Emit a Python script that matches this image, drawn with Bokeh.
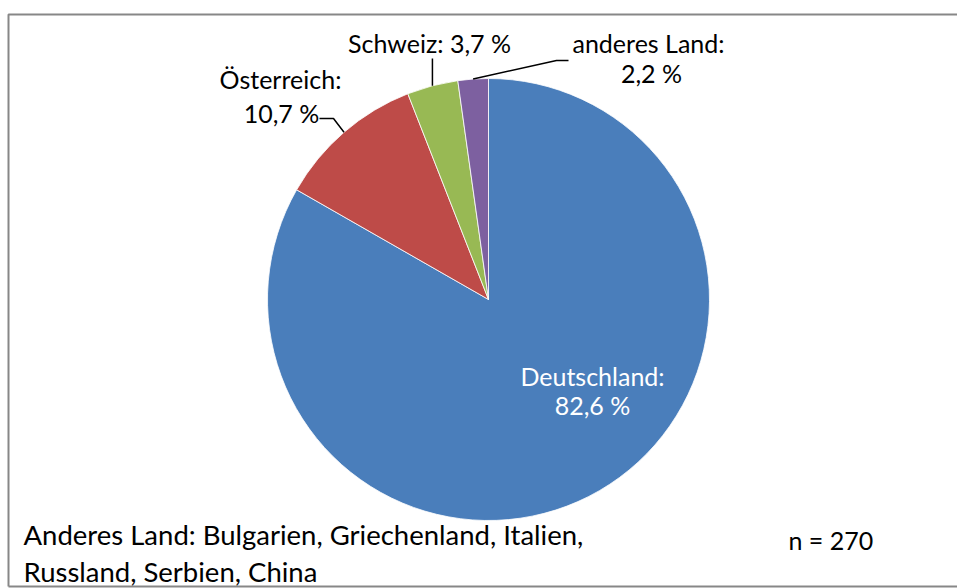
import numpy as np
from bokeh.plotting import figure
from bokeh.models import ColumnDataSource, Range1d
from bokeh.embed import file_html
from bokeh.resources import INLINE
from bokeh.core.properties import value

# ---- data ----
countries = ["Deutschland", "Österreich", "Schweiz", "anderes Land"]
percent = [82.6, 10.7, 3.7, 2.2]
percent_labels = ["82,6 %", "10,7 %", "3,7 %", "2,2 %"]
colors = ["#4A7EBB", "#BE4B48", "#98B954", "#7D60A0"]
note_lines = ["Anderes Land: Bulgarien, Griechenland, Italien,", "Russland, Serbien, China"]
n_label = "n = 270"

# ---- geometry (screen pixels, y measured from top of window) ----
W, H = 957, 588
def sy(y):
    return H - y

cx, cy, r = 488, sy(299), 221
FONT = value("Lato")
TS = 10  # baseline correction for svg text

vals = np.array(percent, dtype=float)
frac = vals / vals.sum()
cum_end = np.cumsum(frac)
cum_start = cum_end - frac
start_angle = np.pi / 2 - 2 * np.pi * cum_start
end_angle = np.pi / 2 - 2 * np.pi * cum_end
mid_angle = np.pi / 2 - 2 * np.pi * (cum_start + frac / 2)

src = ColumnDataSource(dict(
    country=countries, start=start_angle, end=end_angle, color=colors,
    x=[cx] * len(countries), y=[cy] * len(countries),
))

p = figure(width=W, height=H, x_range=Range1d(0, W), y_range=Range1d(0, H),
           output_backend="svg", toolbar_location=None, min_border=0,
           x_axis_location=None, y_axis_location=None)
p.grid.visible = False
p.outline_line_color = None
p.background_fill_color = "white"
p.border_fill_color = "white"

# chart-area border
p.line(x=[8, 8, W + 5], y=[sy(586), sy(14), sy(14)], line_color="#878787", line_width=2)
p.line(x=[8, W + 5], y=[sy(586), sy(586)], line_color="#878787", line_width=2)

p.wedge(x="x", y="y", radius=r, start_angle="start", end_angle="end", direction="clock",
        fill_color="color", line_color="white", line_width=0.8, source=src)

# leader-line end points on the pie edge
ex = cx + r * np.cos(mid_angle)
ey = cy + r * np.sin(mid_angle)

# Österreich
p.line(x=[319, 333, ex[1]], y=[sy(118), sy(118), ey[1]], line_color="black", line_width=1.5)
# Schweiz
p.line(x=[ex[2], ex[2]], y=[sy(58), ey[2]], line_color="black", line_width=1.5)
# anderes Land
p.line(x=[568, 556, ex[3]], y=[sy(60), sy(60), ey[3]], line_color="black", line_width=1.5)

LBL = "25px"
p.text(x=[592, 592], y=[sy(385 - TS), sy(414 - TS)], text=[countries[0] + ":", percent_labels[0]],
       text_font=FONT, text_font_size=LBL, text_align="center", text_baseline="alphabetic",
       text_color="white")
p.text(x=[280, 281], y=[sy(88 - TS), sy(122 - TS)], text=[countries[1] + ":", percent_labels[1]],
       text_font=FONT, text_font_size=LBL, text_align="center", text_baseline="alphabetic",
       text_color="black")
p.text(x=[429], y=[sy(52 - TS)], text=[countries[2] + ": " + percent_labels[2]],
       text_font=FONT, text_font_size=LBL, text_align="center", text_baseline="alphabetic",
       text_color="black")
p.text(x=[648, 651], y=[sy(52 - TS), sy(82 - TS)], text=[countries[3] + ":", percent_labels[3]],
       text_font=FONT, text_font_size=LBL, text_align="center", text_baseline="alphabetic",
       text_color="black")

p.text(x=[23, 23], y=[sy(545 - TS - 1), sy(582 - TS - 1)], text=note_lines,
       text_font=FONT, text_font_size="27.5px", text_align="left", text_baseline="alphabetic",
       text_color="black")
p.text(x=[788], y=[sy(549 - TS)], text=[n_label],
       text_font=FONT, text_font_size="25px", text_align="left", text_baseline="alphabetic",
       text_color="black")

open("out.html", "w").write(file_html(p, INLINE))
